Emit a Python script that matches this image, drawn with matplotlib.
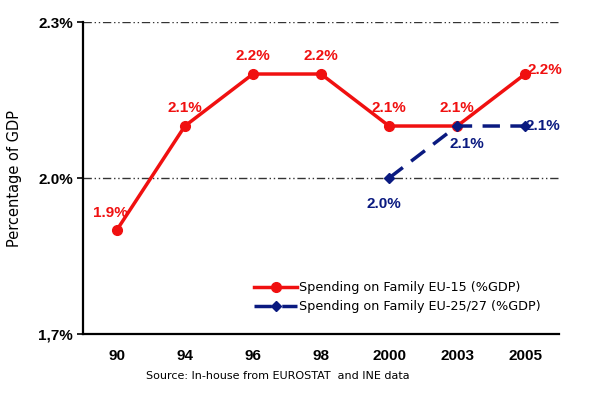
import matplotlib
matplotlib.use("Agg")
import matplotlib.pyplot as plt

years = ["90", "94", "96", "98", "2000", "2003", "2005"]
eu15 = [1.9, 2.1, 2.2, 2.2, 2.1, 2.1, 2.2]
eu25_years = ["2000", "2003", "2005"]
eu25 = [2.0, 2.1, 2.1]
yticks = [1.7, 2.0, 2.3]
ytick_labels = ["1,7%", "2.0%", "2.3%"]

RED = "#f01010"
NAVY = "#0a1a80"
LBL = dict(fontsize=11, fontweight="bold", family="Liberation Sans")

fig = plt.figure(figsize=(6, 3.93), dpi=100)
ax = fig.add_axes([0.138, 0.150, 0.794, 0.794])

x15 = list(range(len(years)))
x25 = [years.index(y) for y in eu25_years]

ax.plot(x15, eu15, color=RED, lw=2.5, marker="o", ms=7,
        label="Spending on Family EU-15 (%GDP)", zorder=3)
ax.plot(x25, eu25, color=NAVY, lw=2.5, ls=(0, (5, 3)), marker="D", ms=5,
        label="Spending on Family EU-25/27 (%GDP)", zorder=4)

# etykiety czerwone
for xi, v in zip(x15, eu15):
    dx, dy, ha, va = 0, 8, "center", "bottom"
    if xi == 0:
        dx, dy = -5, 7
    if xi == len(years) - 1:
        dx, dy, ha = 2, -2, "left"
    ax.annotate(f"{v:.1f}%", (xi, v), xytext=(dx, dy), textcoords="offset points",
                ha=ha, va=va, color=RED, **LBL)
# etykiety granatowe
for xi, v in zip(x25, eu25):
    if xi == len(years) - 1:
        ax.annotate(f"{v:.1f}%", (xi, v), xytext=(0, 0), textcoords="offset points",
                    ha="left", va="center", color=NAVY, **LBL)
    elif xi == 5:
        ax.annotate(f"{v:.1f}%", (xi, v), xytext=(7, -8), textcoords="offset points",
                    ha="center", va="top", color=NAVY, **LBL)
    else:
        ax.annotate(f"{v:.1f}%", (xi, v), xytext=(-4, -14), textcoords="offset points",
                    ha="center", va="top", color=NAVY, **LBL)

ax.set_xlim(-0.5, len(years) - 0.5)
ax.set_ylim(1.7, 2.3)
ax.set_xticks(x15)
ax.set_xticklabels(years, **LBL)
ax.set_yticks(yticks)
ax.set_yticklabels(ytick_labels, **LBL)
ax.tick_params(axis="x", length=0, pad=11)
ax.tick_params(axis="y", length=4, width=1.2, direction="out", pad=3)

for yv in yticks[1:]:
    ax.axhline(yv, color="#333333", lw=1, ls=(0, (6, 2, 1, 2, 1, 2)), zorder=1)

ax.spines["top"].set_visible(False)
ax.spines["right"].set_visible(False)
ax.spines["left"].set_linewidth(1.6)
ax.spines["bottom"].set_linewidth(1.6)

ax.set_ylabel("Percentage of GDP", fontsize=10.5, family="DejaVu Sans", labelpad=12)

ax.legend(loc="lower left", bbox_to_anchor=(0.335, 0.03), frameon=False,
          handlelength=3.4, handletextpad=0.1, labelspacing=0.45,
          prop={"family": "DejaVu Sans", "size": 9.2})

fig.text(0.463, 0.03, "Source: In-house from EUROSTAT  and INE data",
         ha="center", va="bottom", fontsize=8, family="DejaVu Sans")

fig.savefig("out.png", dpi=100, facecolor="white")
